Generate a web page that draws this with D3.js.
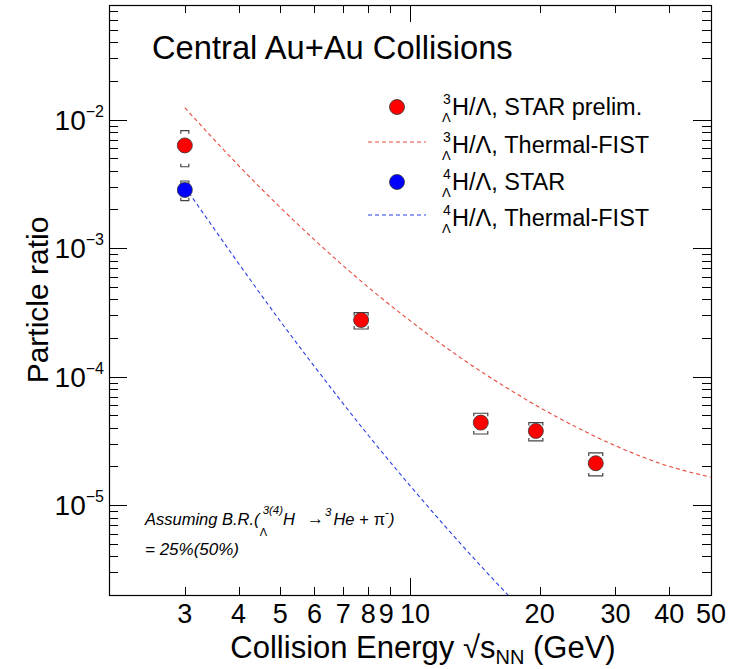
<!DOCTYPE html>
<html>
<head>
<meta charset="utf-8">
<script src="https://cdn.jsdelivr.net/npm/d3@7/dist/d3.min.js"></script>
<style>
  body { margin: 0; background: #fff; }
  text { font-family: "Liberation Sans", Arial, Helvetica, sans-serif; fill: #000; }
</style>
</head>
<body>
<div id="chart"></div>
<script>
// STAR hypertriton / Lambda ratios
const h3Energy = [3, 7.7, 14.6, 19.6, 27];
const h3Ratio = [6.3e-3, 2.76e-4, 4.39e-5, 3.78e-5, 2.12e-5];
const h3SysHigh = [8.2e-3, 3.15e-4, 5.19e-5, 4.39e-5, 2.55e-5];
const h3SysLow = [4.3e-3, 2.35e-4, 3.58e-5, 3.16e-5, 1.69e-5];

const h4Energy = [3];
const h4Ratio = [2.84e-3];
const h4SysHigh = [3.33e-3];
const h4SysLow = [2.34e-3];

// Thermal-FIST curves
const fist3Energy = [3, 4, 5, 6, 8, 10, 13, 17, 22, 30, 38, 50];
const fist3Ratio = [1.24e-2, 4.39e-3, 2.07e-3, 1.16e-3, 4.97e-4, 2.73e-4, 1.43e-4, 7.96e-5, 4.83e-5, 2.9e-5, 2.12e-5, 1.65e-5];
const fist4Energy = [3, 4, 5, 6, 8, 10, 12, 15, 18];
const fist4Ratio = [3.0e-3, 7.6e-4, 2.7e-4, 1.2e-4, 3.5e-5, 1.42e-5, 7.0e-6, 3.05e-6, 1.6e-6];

const xTickLabels = [3, 4, 5, 6, 7, 8, 9, 10, 20, 30, 40, 50];
const yDecades = [-5, -4, -3, -2];

const width = 733, height = 669;
const mLeft = 109, mRight = 711, mTop = 5, mBottom = 595;

const svg = d3.select("#chart").append("svg")
    .attr("width", width)
    .attr("height", height);

const x = d3.scaleLog().domain([2, 50]).range([mLeft, mRight]);
const y = d3.scaleLog().domain([2e-6, 0.078]).range([mBottom, mTop]);

svg.append("clipPath").attr("id", "plot")
  .append("rect").attr("x", mLeft).attr("y", mTop).attr("width", mRight - mLeft).attr("height", mBottom - mTop);

// ticks, all pointing inward, mirrored on top and right
const xMajor = [10];
const xMinor = xTickLabels.filter(d => d !== 10);
const yMajor = yDecades.map(p => Math.pow(10, p));
const yMinor = y.ticks().filter(d => !yMajor.some(m => Math.abs(m - d) / m < 1e-6));

const tickG = svg.append("g").attr("stroke", "#000").attr("stroke-width", 1);
function xTicks(vals, len) {
  vals.forEach(v => {
    const px = Math.round(x(v)) + 0.5;
    tickG.append("line").attr("x1", px).attr("x2", px).attr("y1", mBottom).attr("y2", mBottom - len);
    tickG.append("line").attr("x1", px).attr("x2", px).attr("y1", mTop).attr("y2", mTop + len);
  });
}
function yTicks(vals, len) {
  vals.forEach(v => {
    const py = Math.round(y(v)) + 0.5;
    tickG.append("line").attr("x1", mLeft).attr("x2", mLeft + len).attr("y1", py).attr("y2", py);
    tickG.append("line").attr("x1", mRight).attr("x2", mRight - len).attr("y1", py).attr("y2", py);
  });
}
xTicks(xMinor, 8);
xTicks(xMajor, 17);
yTicks(yMinor, 9);
yTicks(yMajor, 18);

svg.append("rect")
    .attr("x", mLeft + 0.5).attr("y", mTop + 0.5)
    .attr("width", mRight - mLeft).attr("height", mBottom - mTop)
    .attr("fill", "none").attr("stroke", "#000").attr("stroke-width", 1.2);

// tick labels
svg.append("g").selectAll("text")
  .data(xTickLabels)
  .join("text")
    .attr("x", d => x(d) + (d === 9 ? -4 : d === 10 ? 5 : 0))
    .attr("y", 623)
    .attr("text-anchor", "middle")
    .attr("font-size", 27)
    .text(d => d);

const yLab = svg.append("g").selectAll("text")
  .data(yDecades)
  .join("text")
    .attr("x", 104)
    .attr("y", d => y(Math.pow(10, d)) + 10)
    .attr("text-anchor", "end")
    .attr("font-size", 28);
yLab.append("tspan").text("10");
yLab.append("tspan").attr("dy", -13).attr("font-size", 16).text(d => "\u2212" + (-d));

// axis titles
const xt = svg.append("text")
    .attr("x", 423).attr("y", 658)
    .attr("text-anchor", "middle")
    .attr("font-size", 31);
xt.append("tspan").text("Collision Energy \u221A");
xt.append("tspan").text("s");
xt.append("tspan").attr("font-size", 20).attr("dy", 6).text("NN");
xt.append("tspan").attr("dy", -6).text(" (GeV)");

svg.append("text")
    .attr("transform", "translate(48,300) rotate(-90)")
    .attr("text-anchor", "middle")
    .attr("font-size", 30)
    .text("Particle ratio");

// title
svg.append("text")
    .attr("x", 152).attr("y", 59)
    .attr("font-size", 32.7)
    .text("Central Au+Au Collisions");

// Thermal-FIST curves
const line = d3.line()
    .x(d => x(d[0]))
    .y(d => y(d[1]))
    .curve(d3.curveMonotoneX);

const curves = svg.append("g").attr("clip-path", "url(#plot)");
curves.append("path")
    .datum(d3.zip(fist3Energy, fist3Ratio))
    .attr("fill", "none")
    .attr("stroke", "#e8483c")
    .attr("stroke-width", 1.1)
    .attr("stroke-dasharray", "4,3")
    .attr("d", line);
curves.append("path")
    .datum(d3.zip(fist4Energy, fist4Ratio))
    .attr("fill", "none")
    .attr("stroke", "#2b3fe6")
    .attr("stroke-width", 1.1)
    .attr("stroke-dasharray", "4,3")
    .attr("d", line);

// systematic brackets then markers
function drawSeries(energy, ratio, hi, lo, color) {
  const g = svg.append("g");
  energy.forEach((e, i) => {
    const cx = x(e);
    const w = e < 5 ? 4 : 7;
    const yh = y(hi[i]), yl = y(lo[i]);
    g.append("path")
        .attr("d", `M${cx - w},${yh + 3}V${yh}H${cx + w}V${yh + 3}M${cx - w},${yl - 3}V${yl}H${cx + w}V${yl - 3}`)
        .attr("fill", "none")
        .attr("stroke", "#444")
        .attr("stroke-width", 1.2);
  });
  g.selectAll("circle")
    .data(energy.map((e, i) => [e, ratio[i]]))
    .join("circle")
      .attr("cx", d => x(d[0]))
      .attr("cy", d => y(d[1]))
      .attr("r", 7.5)
      .attr("fill", color)
      .attr("stroke", "#333")
      .attr("stroke-width", 0.8);
}
drawSeries(h3Energy, h3Ratio, h3SysHigh, h3SysLow, "#ff0000");
drawSeries(h4Energy, h4Ratio, h4SysHigh, h4SysLow, "#0000ff");

// legend
const legendRows = [
  { y: 107, kind: "marker", color: "#ff0000", top: "3", text: "H/\u039B, STAR prelim." },
  { y: 145, kind: "line", color: "#e8483c", top: "3", text: "H/\u039B, Thermal-FIST" },
  { y: 182, kind: "marker", color: "#0000ff", top: "4", text: "H/\u039B, STAR" },
  { y: 218, kind: "line", color: "#2b3fe6", top: "4", text: "H/\u039B, Thermal-FIST" }
];
const leg = svg.append("g");
legendRows.forEach(r => {
  if (r.kind === "marker") {
    leg.append("circle").attr("cx", 397).attr("cy", r.y).attr("r", 7.5)
        .attr("fill", r.color).attr("stroke", "#333").attr("stroke-width", 0.8);
  } else {
    leg.append("line").attr("x1", 368).attr("x2", 426).attr("y1", r.y - 3).attr("y2", r.y - 3)
        .attr("stroke", r.color).attr("stroke-width", 1.1).attr("stroke-dasharray", "4,3");
  }
  leg.append("text").attr("x", 443).attr("y", r.y - 3).attr("font-size", 14).text(r.top);
  leg.append("text").attr("x", 442).attr("y", r.y + 15).attr("font-size", 13).text("\u039B");
  leg.append("text").attr("x", 452).attr("y", r.y + 8).attr("font-size", 23.5).text(r.text);
});

// branching ratio note
const note = svg.append("g").attr("font-style", "italic");
let cx = 145;
function piece(str, size, base, opts = {}) {
  const t = note.append("text").attr("x", cx).attr("y", base).attr("font-size", size).text(str);
  if (opts.upright) t.attr("font-style", "normal");
  const w = t.node().getComputedTextLength();
  if (!opts.stay) cx += w;
  return w;
}
piece("Assuming B.R.(", 16.5, 525);
const subStart = cx;
piece("\u039B", 11, 536, { upright: true, stay: true });
cx = subStart + 3;
piece("3(4)", 11.5, 514);
piece("H", 16.5, 525);
cx += 12;
piece("\u2192", 17, 524, { upright: true });
cx += 1;
piece("3", 11.5, 516);
cx += 2;
piece("He +", 16.5, 525);
cx += 5;
piece("\u03C0", 16.5, 525, { upright: true });
piece("-", 11.5, 516);
piece(")", 16.5, 525);
cx = 145;
piece("= 25%(50%)", 17, 555);
</script>
</body>
</html>
